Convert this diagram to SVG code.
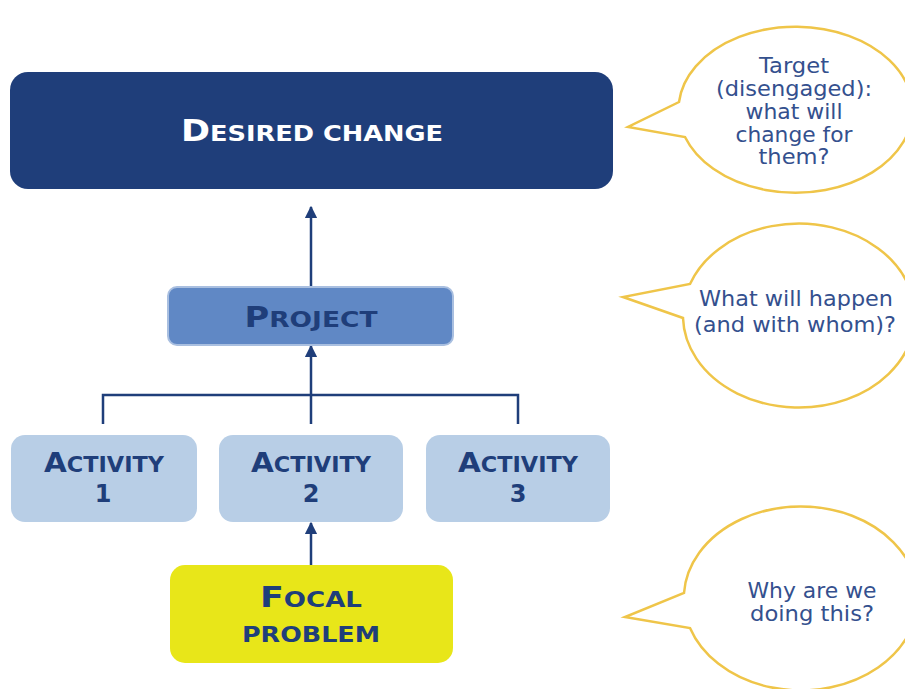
<svg xmlns="http://www.w3.org/2000/svg" width="905" height="689" viewBox="0 0 905 689">
<defs>
<style>
.lbl{font-family:"DejaVu Sans","Liberation Sans",sans-serif;font-weight:bold;fill:#1f3e7a;text-anchor:middle}
.call{font-family:"DejaVu Sans","Open Sans",sans-serif;font-size:20.5px;fill:#34508e;text-anchor:middle}
.bubble{fill:#ffffff;stroke:#efc549;stroke-width:2.5;stroke-linejoin:miter}
.conn{fill:none;stroke:#1f3e7a;stroke-width:2.5}
</style>
<marker id="arr" viewBox="0 0 10 10" refX="9" refY="5" markerWidth="5" markerHeight="5" orient="auto" markerUnits="strokeWidth">
<path d="M0,0 L10,5 L0,10 z" fill="#1f3e7a"/>
</marker>
</defs>
<rect width="905" height="689" fill="#ffffff"/>

<g id="connectors">
<line class="conn" x1="311" y1="287" x2="311" y2="207" marker-end="url(#arr)"/>
<line class="conn" x1="311" y1="424" x2="311" y2="346" marker-end="url(#arr)"/>
<polyline class="conn" points="103,424 103,395 518,395 518,424"/>
<line class="conn" x1="311" y1="565" x2="311" y2="523" marker-end="url(#arr)"/>
</g>

<g id="desired-change">
<rect x="10" y="72" width="603" height="117" rx="18" fill="#1f3e7a"/>
<text class="lbl" x="312" y="141" textLength="262" lengthAdjust="spacingAndGlyphs" style="fill:#ffffff"><tspan style="font-size:30px">D</tspan><tspan style="font-size:22px">ESIRED CHANGE</tspan></text>
</g>

<g id="project">
<rect x="168" y="287" width="285" height="58" rx="9" fill="#6088c5" stroke="#a9bfe0" stroke-width="2"/>
<text class="lbl" x="311" y="327" textLength="133" lengthAdjust="spacingAndGlyphs"><tspan style="font-size:28px">P</tspan><tspan style="font-size:22px">ROJECT</tspan></text>
</g>

<g id="activity-1">
<rect x="11" y="435" width="186" height="87" rx="14" fill="#b8cee6"/>
<text class="lbl" x="104" y="472" textLength="120" lengthAdjust="spacingAndGlyphs"><tspan style="font-size:27px">A</tspan><tspan style="font-size:20.5px">CTIVITY</tspan></text>
<text class="lbl" x="103" y="502" style="font-size:24px">1</text>
</g>

<g id="activity-2">
<rect x="219" y="435" width="184" height="87" rx="14" fill="#b8cee6"/>
<text class="lbl" x="311" y="472" textLength="120" lengthAdjust="spacingAndGlyphs"><tspan style="font-size:27px">A</tspan><tspan style="font-size:20.5px">CTIVITY</tspan></text>
<text class="lbl" x="311" y="502" style="font-size:24px">2</text>
</g>

<g id="activity-3">
<rect x="426" y="435" width="184" height="87" rx="14" fill="#b8cee6"/>
<text class="lbl" x="518" y="472" textLength="120" lengthAdjust="spacingAndGlyphs"><tspan style="font-size:27px">A</tspan><tspan style="font-size:20.5px">CTIVITY</tspan></text>
<text class="lbl" x="518" y="502" style="font-size:24px">3</text>
</g>

<g id="focal-problem">
<rect x="170" y="565" width="283" height="98" rx="15" fill="#e8e619"/>
<text class="lbl" x="311" y="607" textLength="102" lengthAdjust="spacingAndGlyphs"><tspan style="font-size:28px">F</tspan><tspan style="font-size:21px">OCAL</tspan></text>
<text class="lbl" x="311" y="642" textLength="138" lengthAdjust="spacingAndGlyphs" style="font-size:22px">PROBLEM</text>
</g>

<g id="callout-target">
<path class="bubble" d="M679,102 A117,83 0 1 1 685,137 L628,127 Z"/>
<text class="call" x="794" y="73" textLength="70" lengthAdjust="spacingAndGlyphs">Target</text>
<text class="call" x="794" y="96" textLength="156" lengthAdjust="spacingAndGlyphs">(disengaged):</text>
<text class="call" x="794" y="119" textLength="97" lengthAdjust="spacingAndGlyphs">what will</text>
<text class="call" x="794" y="142" textLength="117" lengthAdjust="spacingAndGlyphs">change for</text>
<text class="call" x="794" y="164" textLength="71" lengthAdjust="spacingAndGlyphs">them?</text>
</g>

<g id="callout-project">
<path class="bubble" d="M690,284 A116,92 0 1 1 683,318 L623,297 Z"/>
<text class="call" x="796" y="306" textLength="194" lengthAdjust="spacingAndGlyphs">What will happen</text>
<text class="call" x="795" y="332" textLength="202" lengthAdjust="spacingAndGlyphs">(and with whom)?</text>
</g>

<g id="callout-problem">
<path class="bubble" d="M684,593 A117,92 0 1 1 690,628 L625,617 Z"/>
<text class="call" x="812" y="598" textLength="129" lengthAdjust="spacingAndGlyphs">Why are we</text>
<text class="call" x="812" y="621" textLength="124" lengthAdjust="spacingAndGlyphs">doing this?</text>
</g>
</svg>
